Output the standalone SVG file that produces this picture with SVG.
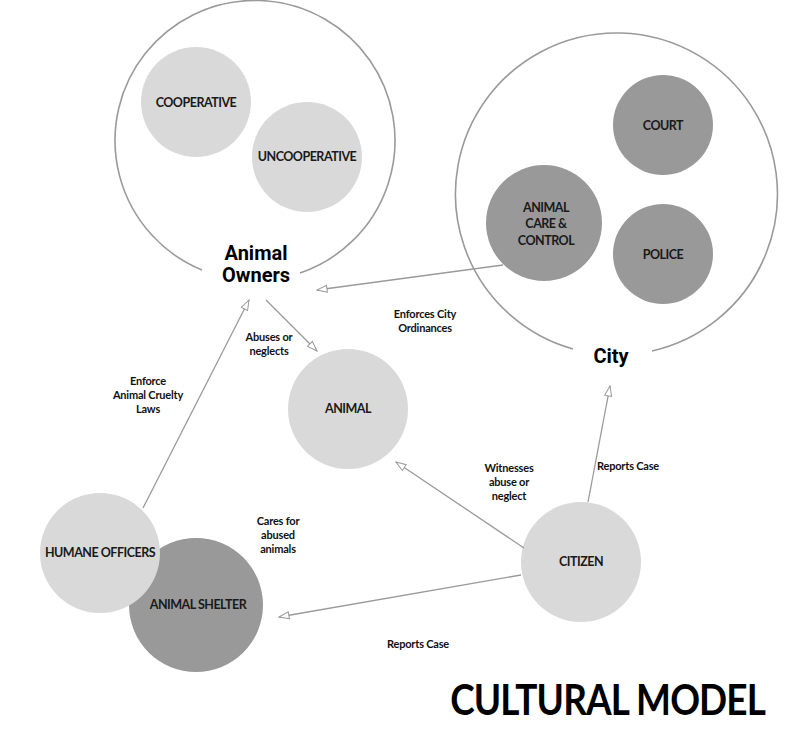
<svg xmlns="http://www.w3.org/2000/svg" width="792" height="743" viewBox="0 0 792 743">
<style>
.big{fill:none;stroke:#9a9a9a;stroke-width:1.6}
.light{fill:#d9d9d9}
.dark{fill:#999999}
.nl{font-family:"Lato","Liberation Sans",sans-serif;font-weight:bold;font-size:12.5px;letter-spacing:-0.5px;fill:#1a1a1a;text-anchor:middle}
.gl{font-family:"Roboto","Liberation Sans",sans-serif;font-weight:bold;font-size:20px;fill:#000;text-anchor:middle}
.el{font-family:"Lato","Liberation Sans",sans-serif;font-weight:bold;font-size:11px;letter-spacing:-0.2px;fill:#111;text-anchor:middle}
.conn{stroke:#9a9a9a;stroke-width:1.3;fill:none;marker-end:url(#arr)}
.title{font-family:"Lato","Liberation Sans",sans-serif;font-weight:bold;font-size:42px;letter-spacing:-1px;fill:#000;text-anchor:end}
</style>
<defs>
<marker id="arr" viewBox="0 0 12 10" refX="11" refY="5" markerWidth="12" markerHeight="10" markerUnits="userSpaceOnUse" orient="auto">
<path d="M1,1.5 L11,5 L1,8.5 Z" fill="#fff" stroke="#9a9a9a" stroke-width="1"/>
</marker>
</defs>
<rect width="792" height="743" fill="#fff"/>

<g id="animal-owners">
<path class="big" d="M202,270 A140,140 0 1 1 300,273"/>
<text class="gl" x="256" y="260">Animal</text>
<text class="gl" x="256" y="282">Owners</text>
</g>
<g id="cooperative">
<circle class="light" cx="196" cy="102" r="55"/>
<text class="nl" x="196" y="107">COOPERATIVE</text>
</g>
<g id="uncooperative">
<circle class="light" cx="307" cy="157" r="55"/>
<text class="nl" x="307" y="161">UNCOOPERATIVE</text>
</g>

<g id="city">
<path class="big" d="M573,349 A161,161 0 1 1 652,351"/>
<text class="gl" x="611" y="363">City</text>
</g>
<g id="court">
<circle class="dark" cx="663" cy="125" r="50"/>
<text class="nl" x="663" y="130">COURT</text>
</g>
<g id="police">
<circle class="dark" cx="663" cy="254" r="50"/>
<text class="nl" x="663" y="259">POLICE</text>
</g>
<g id="animal-care-control">
<circle class="dark" cx="544" cy="223" r="58"/>
<text class="nl" x="546" y="212">ANIMAL</text>
<text class="nl" x="546" y="228">CARE &amp;</text>
<text class="nl" x="546" y="245">CONTROL</text>
</g>

<g id="animal">
<circle class="light" cx="348" cy="409" r="60"/>
<text class="nl" x="348" y="413">ANIMAL</text>
</g>

<g id="animal-shelter">
<circle class="dark" cx="196" cy="605" r="67"/>
<text class="nl" x="198" y="609">ANIMAL SHELTER</text>
</g>
<g id="humane-officers">
<circle class="light" cx="100" cy="553" r="60"/>
<text class="nl" x="100" y="557">HUMANE OFFICERS</text>
</g>

<g id="citizen">
<circle class="light" cx="581" cy="562" r="60"/>
<text class="nl" x="581" y="566">CITIZEN</text>
</g>

<g id="connectors">
<line class="conn" x1="503" y1="265" x2="317" y2="290"/>
<line class="conn" x1="266" y1="300" x2="317" y2="351"/>
<line class="conn" x1="143" y1="508" x2="249" y2="300"/>
<line class="conn" x1="524" y1="548" x2="396" y2="462"/>
<line class="conn" x1="588" y1="502" x2="610" y2="386"/>
<line class="conn" x1="521" y1="575" x2="279" y2="617"/>
</g>

<g id="edge-labels">
<text class="el" x="269" y="341">Abuses or</text>
<text class="el" x="269" y="355">neglects</text>
<text class="el" x="425" y="318">Enforces City</text>
<text class="el" x="425" y="332">Ordinances</text>
<text class="el" x="148" y="385">Enforce</text>
<text class="el" x="148" y="399">Animal Cruelty</text>
<text class="el" x="148" y="413">Laws</text>
<text class="el" x="509" y="472">Witnesses</text>
<text class="el" x="509" y="486">abuse or</text>
<text class="el" x="509" y="500">neglect</text>
<text class="el" x="628" y="470">Reports Case</text>
<text class="el" x="278" y="525">Cares for</text>
<text class="el" x="278" y="539">abused</text>
<text class="el" x="278" y="553">animals</text>
<text class="el" x="418" y="648">Reports Case</text>
</g>

<text class="title" transform="translate(765,715) scale(0.88,1)" x="0" y="0">CULTURAL MODEL</text>
</svg>
